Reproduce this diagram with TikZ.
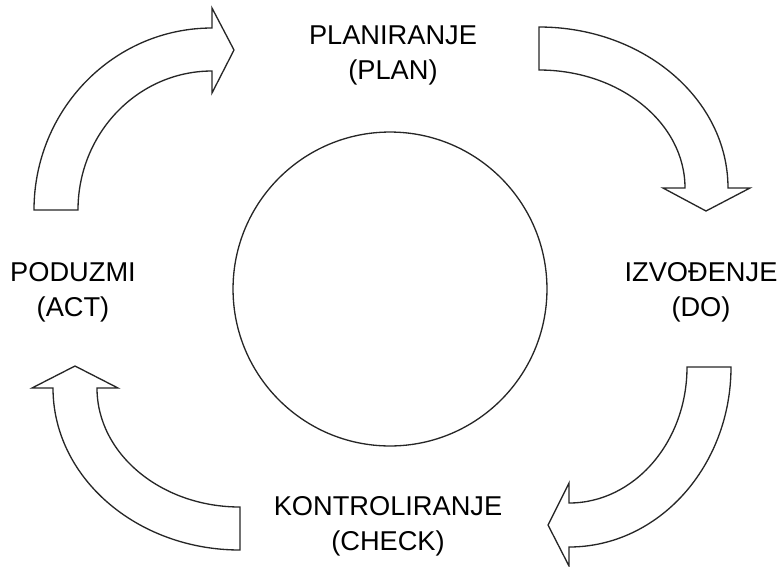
\documentclass[tikz,border=0pt]{standalone}
\usepackage{fontspec}
\setmainfont{Liberation Sans}
\tikzset{
  lbl/.style={align=center, inner sep=0pt, font=\fontsize{15.5pt}{19.9pt}\selectfont},
  ring/.style={draw=black!85, circle, minimum size=6.28cm, inner sep=0pt, line width=0.75pt},
  barr/.style={draw=black!85, fill=white, line width=0.75pt},
}
\begin{document}
\begin{tikzpicture}[x=0.02cm, y=-0.02cm]
\useasboundingbox (0,0) rectangle (784,566);

\node[ring] (ring) at (390,289) {};

\node[lbl] (plan) at (393,55) {PLANIRANJE\\(PLAN)};
\node[lbl] (do) at (701,292) {IZVOĐENJE\\(DO)};
\node[lbl] (check) at (388,526) {KONTROLIRANJE\\(CHECK)};
\node[lbl] (act) at (73,292) {PODUZMI\\(ACT)};

\draw[barr] (34,210) arc[start angle=180, end angle=270, x radius=178, y radius=182]
  -- (212,8) -- (234,50) -- (212,93) -- (212,71)
  arc[start angle=270, end angle=180, x radius=134, y radius=139] -- cycle;
\draw[barr] (539,27) arc[start angle=270, end angle=360, x radius=189, y radius=161]
  -- (750,188) -- (706,211) -- (663,188) -- (685,188)
  arc[start angle=0, end angle=-90, x radius=146, y radius=118] -- cycle;
\draw[barr] (687,367) arc[start angle=0, end angle=90, x radius=118, y radius=136]
  -- (569,483) -- (548,525) -- (569,566) -- (569,547)
  arc[start angle=90, end angle=0, x radius=162, y radius=180] -- cycle;
\draw[barr] (240,550) arc[start angle=90, end angle=180, x radius=187, y radius=162]
  -- (32,388) -- (75,366) -- (118,388) -- (97,388)
  arc[start angle=180, end angle=90, x radius=143, y radius=119] -- cycle;

\end{tikzpicture}
\end{document}
